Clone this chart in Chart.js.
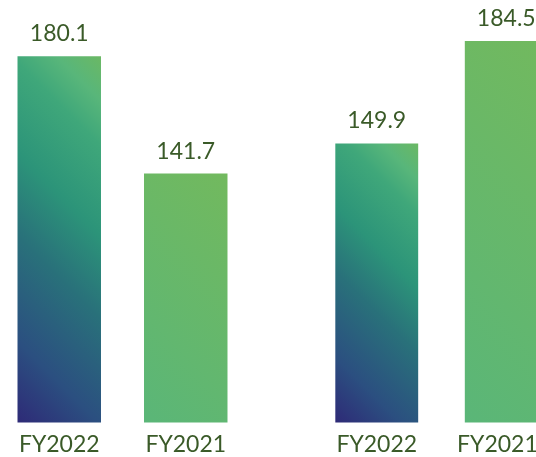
<!DOCTYPE html>
<html>
<head>
<meta charset="utf-8">
<script src="https://cdn.jsdelivr.net/npm/chart.js@4/dist/chart.umd.min.js"></script>
<style>
  html, body { margin: 0; padding: 0; background: #ffffff; }
  body { position: relative; width: 536px; height: 457px; overflow: hidden; }
  canvas { position: absolute; top: 0; }
  #leftChart { left: -4px; }
  #rightChart { left: 312px; }
</style>
</head>
<body>
<canvas id="leftChart" width="253" height="466"></canvas>
<canvas id="rightChart" width="259" height="466"></canvas>
<script>
// Two small column charts, each comparing FY2022 with FY2021
const leftCategories = ['FY2022', 'FY2021'];
const leftValues = [180.1, 141.7];
const leftRange = [60.3, 198.5];

const rightCategories = ['FY2022', 'FY2021'];
const rightValues = [149.9, 184.5];
const rightRange = [55.6, 198.4];

// Diagonal fills (bottom-left to top-right of each column)
const currentYearStops = [
  [0.00, '#2e2a77'],
  [0.18, '#2b4f80'],
  [0.42, '#29717a'],
  [0.60, '#2c9479'],
  [0.80, '#3fa77a'],
  [0.90, '#58b67a'],
  [1.00, '#6bb864']
];
const priorYearStops = [
  [0.00, '#5ab678'],
  [1.00, '#72b95e']
];

const textColor = '#3a5a28';
const fontFamily = 'Lato, "Open Sans", sans-serif';
const fontSize = 23;

function columnFill(categoryPct) {
  return (ctx) => {
    const chart = ctx.chart;
    const stops = ctx.dataIndex === 0 ? currentYearStops : priorYearStops;
    const xs = chart.scales.x, ys = chart.scales.y;
    if (!chart.chartArea || !xs || !ys || ctx.type !== 'data') return stops[stops.length - 1][1];
    const half = (xs.width / xs.ticks.length) * categoryPct / 2;
    const cx = xs.getPixelForValue(ctx.dataIndex);
    const left = cx - half;
    const right = cx + half;
    const top = ys.getPixelForValue(ctx.raw);
    const bottom = ys.getPixelForValue(ys.min);
    const span = ((right - left) + (bottom - top)) / 2;
    const g = chart.ctx.createLinearGradient(left, bottom, left + span, bottom - span);
    stops.forEach(([o, c]) => g.addColorStop(o, c));
    return g;
  };
}

const valueLabels = {
  id: 'valueLabels',
  afterDatasetsDraw(chart) {
    const ctx = chart.ctx;
    const meta = chart.getDatasetMeta(0);
    const data = chart.data.datasets[0].data;
    ctx.save();
    ctx.font = fontSize + 'px ' + fontFamily;
    ctx.fillStyle = textColor;
    ctx.textAlign = 'center';
    ctx.textBaseline = 'alphabetic';
    meta.data.forEach((bar, i) => {
      ctx.fillText(data[i].toFixed(1), bar.x, bar.y - 15);
    });
    ctx.restore();
  }
};

function makeChart(id, categories, values, range, categoryPct, keepLastInside) {
  return new Chart(document.getElementById(id), {
    type: 'bar',
    data: {
      labels: categories,
      datasets: [{
        data: values,
        backgroundColor: columnFill(categoryPct),
        borderWidth: 0,
        barPercentage: 1,
        categoryPercentage: categoryPct
      }]
    },
    options: {
      responsive: false,
      animation: false,
      devicePixelRatio: 1,
      layout: { padding: 0 },
      plugins: { legend: { display: false }, tooltip: { enabled: false } },
      scales: {
        x: {
          grid: { display: false, drawTicks: false },
          border: { display: false },
          ticks: {
            color: textColor,
            padding: 8,
            font: { family: fontFamily, size: fontSize, lineHeight: 1.2 },
            // the right-hand chart runs past the page edge, so its last
            // label is nudged left to stay readable
            callback: function (value, index, ticks) {
              const label = this.getLabelForValue(value);
              return keepLastInside && index === ticks.length - 1 ? label + '   ' : label;
            }
          }
        },
        y: {
          display: false,
          beginAtZero: false,
          min: range[0],
          max: range[1]
        }
      }
    },
    plugins: [valueLabels]
  });
}

function draw() {
  makeChart('leftChart', leftCategories, leftValues, leftRange, 0.66, false);
  makeChart('rightChart', rightCategories, rightValues, rightRange, 0.64, true);
}

if (document.fonts && document.fonts.load) {
  document.fonts.load(fontSize + 'px Lato').then(draw, draw);
} else {
  draw();
}
</script>
</body>
</html>
